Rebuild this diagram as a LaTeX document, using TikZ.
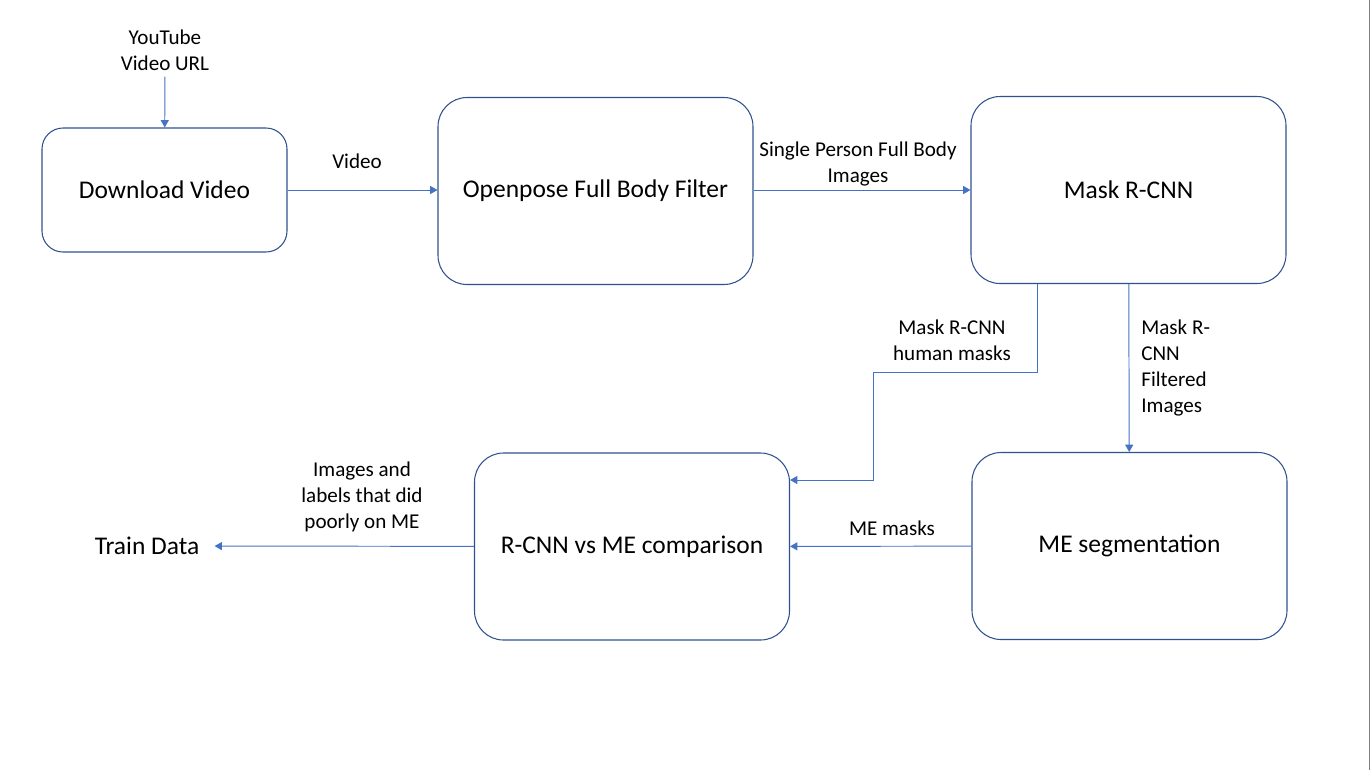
\documentclass[tikz,border=0pt]{standalone}
\usepackage{fontspec}
\setmainfont{Carlito}
\usetikzlibrary{positioning}
\usetikzlibrary{arrows.meta}
\definecolor{boxblue}{RGB}{47,82,143}
\definecolor{lineblue}{RGB}{68,114,196}
\tikzset{
    mybox/.style = {rectangle, rounded corners=0.42cm, draw=boxblue, line width=0.6pt, fill=white, align=center, font=\fontsize{14.5}{17}\selectfont},
    mybigbox/.style = {mybox, rounded corners=0.58cm, minimum width=6.3cm, minimum height=3.74cm},
    mylabel/.style = {align=center, inner sep=0pt, font=\fontsize{12}{14.7}\selectfont},
    edgeb/.style = {-{Triangle[width=4.6pt,length=4.2pt]}, line width=0.55pt, draw=lineblue}
}
\begin{document}
\begin{tikzpicture}[scale=1.00,transform shape]
\useasboundingbox (0,0) rectangle (27.42,-15.4);
\draw[line width=1pt, draw=gray] (27.39,0) -- (27.39,-15.4);
%
\node[mybox, minimum width=4.9cm, minimum height=2.48cm] at (3.29,-3.80) (dl) {Download Video};
\node[mybigbox] at (11.91,-3.82) (op) {Openpose Full Body Filter};
\node[mybigbox] at (22.57,-3.80) (mr) {Mask R-CNN};
\node[mybigbox] at (12.64,-10.93) (cmp) {R-CNN vs ME comparison};
\node[mybigbox] at (22.59,-10.92) (me) {ME segmentation};
\node[mylabel, inner sep=0.3cm, font=\fontsize{14.5}{17}\selectfont] at (2.94,-10.92) (train) {Train Data};
\node[mylabel, inner sep=0.12cm] at (3.30,-1.00) (url) {YouTube\\Video URL};
%
\coordinate (k1) at (20.74,-7.44);
\coordinate (k2) at (17.46,-7.44);
%
\draw[edgeb] (url) -- (dl);
\draw[edgeb] (dl) -- (dl -| op.west);
\draw[edgeb] (op.east |- mr) -- (mr);
\draw[edgeb] (mr.south -| k1) -- (k1) -- (k2) |- ([yshift=1.33cm]cmp.east);
\draw[edgeb] (mr) -- (me);
\draw[edgeb] (me) -- (cmp);
\draw[edgeb] (cmp) -- (train);
%
\node[mylabel] at (7.14,-3.22) (lvideo) {Video};
\node[mylabel] at (17.16,-3.28) (lsingle) {Single Person Full Body\\Images};
\node[mylabel] at (19.04,-6.80) (lhuman) {Mask R-CNN\\human masks};
\node[mylabel, anchor=west, align=left] at (22.82,-7.36) (lfilt) {Mask R-\\CNN\\Filtered\\Images};
\node[mylabel] at (17.84,-10.56) (lmemask) {ME masks};
\node[mylabel] at (7.24,-9.94) (lpoor) {Images and\\labels that did\\poorly on ME};
\end{tikzpicture}
\end{document}
